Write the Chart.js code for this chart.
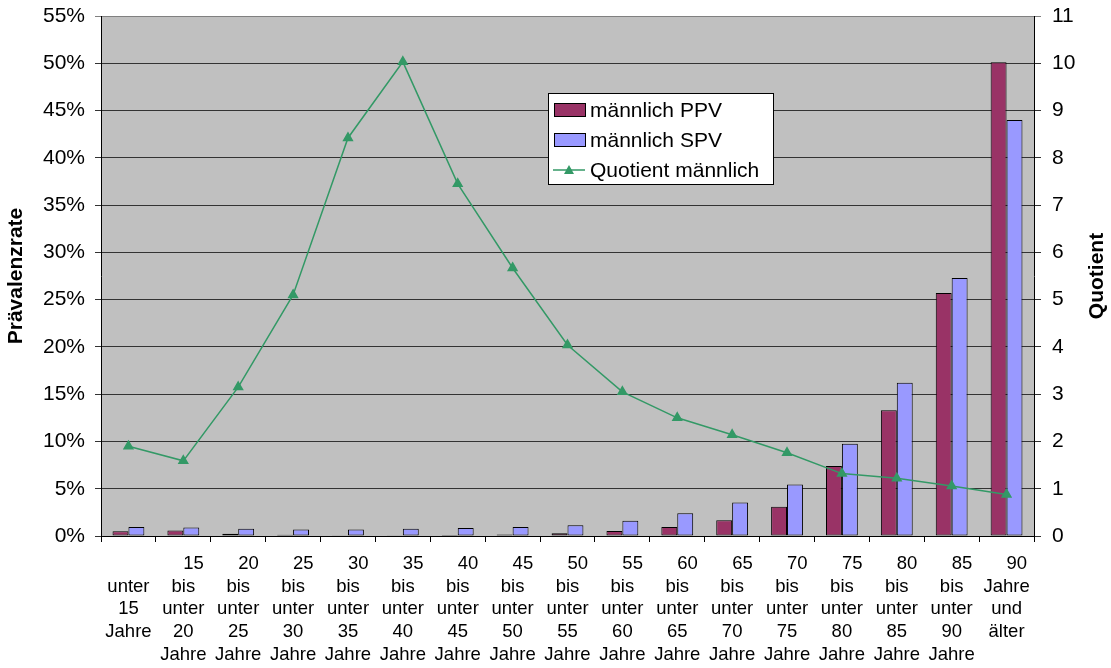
<!DOCTYPE html>
<html lang="de">
<head>
<meta charset="utf-8">
<title>Prävalenzrate männlich PPV / SPV</title>
<script src="https://cdn.jsdelivr.net/npm/chart.js@4.4.1/dist/chart.umd.min.js"></script>
<style>
  html, body { margin: 0; padding: 0; background: #fff; }
  #grafico { display: block; }
</style>
</head>
<body>
<canvas id="grafico" width="1111" height="668"></canvas>
<script>
// Abstand vor den Zahlen in der ersten Zeile (wie im Original leicht nach rechts versetzt)
const sp = '\u00a0\u00a0\u00a0\u00a0';

const altersgruppen = [
  ['', 'unter', '15', 'Jahre'],
  [sp + '15', 'bis', 'unter', '20', 'Jahre'],
  [sp + '20', 'bis', 'unter', '25', 'Jahre'],
  [sp + '25', 'bis', 'unter', '30', 'Jahre'],
  [sp + '30', 'bis', 'unter', '35', 'Jahre'],
  [sp + '35', 'bis', 'unter', '40', 'Jahre'],
  [sp + '40', 'bis', 'unter', '45', 'Jahre'],
  [sp + '45', 'bis', 'unter', '50', 'Jahre'],
  [sp + '50', 'bis', 'unter', '55', 'Jahre'],
  [sp + '55', 'bis', 'unter', '60', 'Jahre'],
  [sp + '60', 'bis', 'unter', '65', 'Jahre'],
  [sp + '65', 'bis', 'unter', '70', 'Jahre'],
  [sp + '70', 'bis', 'unter', '75', 'Jahre'],
  [sp + '75', 'bis', 'unter', '80', 'Jahre'],
  [sp + '80', 'bis', 'unter', '85', 'Jahre'],
  [sp + '85', 'bis', 'unter', '90', 'Jahre'],
  [sp + '90', 'Jahre', 'und', 'älter']
];

// Prävalenzraten in %
const maennlichPPV = [0.5, 0.57, 0.25, 0.14, 0.08, 0.08, 0.11, 0.17, 0.28, 0.52, 0.96, 1.66, 3.1, 7.4, 13.3, 25.7, 50.1];
const maennlichSPV = [0.95, 0.9, 0.77, 0.7, 0.7, 0.77, 0.85, 0.95, 1.15, 1.6, 2.4, 3.55, 5.45, 9.75, 16.2, 27.3, 44.0];
// Quotient (rechte Achse)
const quotientMaennlich = [1.9, 1.59, 3.15, 5.1, 8.42, 10.03, 7.45, 5.67, 4.04, 3.05, 2.5, 2.14, 1.76, 1.32, 1.22, 1.06, 0.88];

const schrift = 'Arial, "Liberation Sans", sans-serif';
const gridFarbe = (c) => (c.tick && (c.tick.value === 55 || c.tick.value === 11)) ? '#808080' : '#333';

// grauer Hintergrund der Zeichenfläche
const hintergrund = {
  id: 'hintergrund',
  beforeDraw(chart) {
    const { ctx, chartArea: a } = chart;
    ctx.save();
    ctx.fillStyle = '#c0c0c0';
    ctx.fillRect(a.left, a.top, a.right - a.left, a.bottom - a.top);
    ctx.restore();
  }
};

// Legende im Diagramm + rechter Achsentitel (von unten nach oben gelesen)
const legende = {
  id: 'legende',
  afterDraw(chart) {
    const ctx = chart.ctx;
    const bx = 548, by = 93, bw = 225, bh = 91;
    ctx.save();
    ctx.fillStyle = '#fff';
    ctx.fillRect(bx, by, bw, bh);
    ctx.strokeStyle = '#000';
    ctx.lineWidth = 1;
    ctx.strokeRect(bx + 0.5, by + 0.5, bw, bh);
    ctx.font = '21px ' + schrift;
    ctx.textBaseline = 'middle';
    ctx.textAlign = 'left';
    chart.data.datasets.forEach((ds, i) => {
      const cy = 110 + i * 30;
      if (ds.type === 'line') {
        ctx.strokeStyle = ds.borderColor;
        ctx.lineWidth = 1.5;
        ctx.beginPath();
        ctx.moveTo(553, cy);
        ctx.lineTo(585, cy);
        ctx.stroke();
        ctx.fillStyle = ds.pointBackgroundColor;
        ctx.beginPath();
        ctx.moveTo(569, cy - 5);
        ctx.lineTo(574, cy + 4);
        ctx.lineTo(564, cy + 4);
        ctx.closePath();
        ctx.fill();
      } else {
        ctx.fillStyle = ds.backgroundColor;
        ctx.fillRect(554, cy - 6, 31, 12);
        ctx.strokeStyle = '#000';
        ctx.lineWidth = 1;
        ctx.strokeRect(554.5, cy - 6.5, 31, 13);
      }
      ctx.fillStyle = '#000';
      ctx.fillText(ds.label, 590, cy + 1);
    });

    const a = chart.chartArea;
    ctx.translate(1097, (a.top + a.bottom) / 2);
    ctx.rotate(-Math.PI / 2);
    ctx.font = 'bold 21px ' + schrift;
    ctx.textAlign = 'center';
    ctx.fillText('Quotient', 0, 0);
    ctx.restore();
  }
};

new Chart(document.getElementById('grafico'), {
  data: {
    labels: altersgruppen,
    datasets: [
      {
        type: 'bar',
        label: 'männlich PPV',
        data: maennlichPPV,
        backgroundColor: '#993366',
        borderColor: '#000',
        borderWidth: 1,
        borderSkipped: false,
        categoryPercentage: 0.58,
        barPercentage: 1,
        yAxisID: 'y',
        order: 1
      },
      {
        type: 'bar',
        label: 'männlich SPV',
        data: maennlichSPV,
        backgroundColor: '#9999ff',
        borderColor: '#000',
        borderWidth: 1,
        borderSkipped: false,
        categoryPercentage: 0.58,
        barPercentage: 1,
        yAxisID: 'y',
        order: 1
      },
      {
        type: 'line',
        label: 'Quotient männlich',
        data: quotientMaennlich,
        borderColor: '#339966',
        backgroundColor: '#339966',
        pointBackgroundColor: '#339966',
        pointBorderColor: '#339966',
        borderWidth: 1.5,
        pointStyle: 'triangle',
        pointRadius: 5,
        tension: 0,
        yAxisID: 'y1',
        order: 0
      }
    ]
  },
  options: {
    responsive: false,
    animation: false,
    layout: { padding: { top: 16, left: 0, right: 0, bottom: 0 } },
    plugins: {
      legend: { display: false },
      tooltip: { enabled: false }
    },
    scales: {
      x: {
        offset: true,
        afterFit: (s) => { s.height = 132; },
        grid: { offset: true, drawOnChartArea: false, tickLength: 6, color: '#000' },
        border: { color: '#000' },
        ticks: {
          autoSkip: false,
          maxRotation: 0,
          minRotation: 0,
          padding: 10,
          color: '#000',
          font: { family: schrift, size: 18.5, lineHeight: 1.24 }
        }
      },
      y: {
        position: 'left',
        min: 0,
        max: 55,
        afterFit: (s) => { s.width = 101; s.paddingTop = 0; s.paddingBottom = 0; },
        grid: { color: gridFarbe, tickLength: 6 },
        border: { color: '#000' },
        ticks: {
          stepSize: 5,
          padding: 10,
          color: '#000',
          font: { family: schrift, size: 21 },
          callback: (v) => v + '%'
        },
        title: {
          display: true,
          text: 'Prävalenzrate',
          color: '#000',
          font: { family: schrift, size: 21, weight: 'bold' },
          padding: { top: 4, bottom: 0 }
        }
      },
      y1: {
        position: 'right',
        min: 0,
        max: 11,
        afterFit: (s) => { s.width = 77; s.paddingTop = 0; s.paddingBottom = 0; },
        grid: { drawOnChartArea: false, color: gridFarbe, tickLength: 7 },
        border: { color: '#000' },
        ticks: {
          stepSize: 1,
          padding: 11,
          color: '#000',
          font: { family: schrift, size: 21 }
        }
      }
    }
  },
  plugins: [hintergrund, legende]
});
</script>
</body>
</html>
